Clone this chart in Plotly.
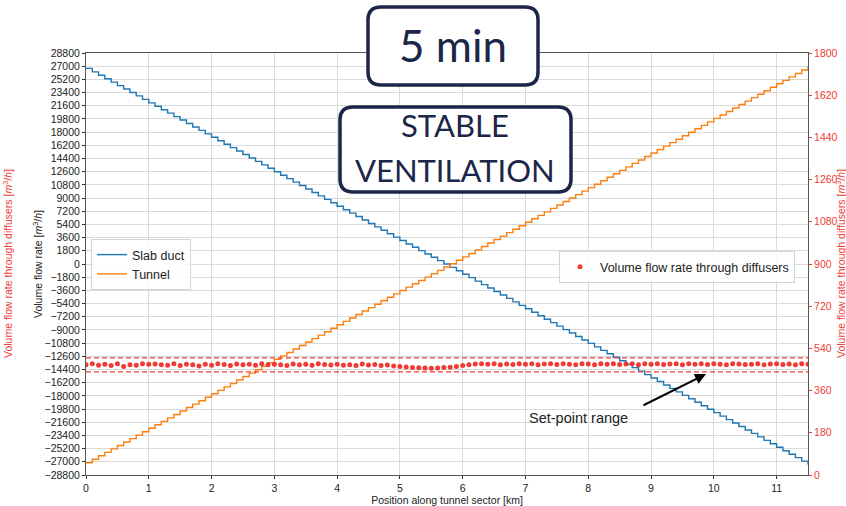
import numpy as np
import plotly.graph_objects as go

# ---------------- data ----------------
diffuser_km = [round(0.1 * i, 1) for i in range(116)]  # diffuser positions along the tunnel [km]
diffuser_flow = [  # volume flow rate through each diffuser [m3/h]
    470, 474, 468, 472, 467, 474, 463, 470, 468, 474,
    472, 473, 470, 468, 474, 467, 472, 470, 465, 472,
    468, 474, 471, 467, 473, 470, 472, 468, 474, 470,
    472, 470, 467, 473, 470, 472, 468, 474, 471, 469,
    472, 468, 470, 467, 473, 469, 471, 467, 469, 465,
    463, 461, 459, 457, 456, 455, 456, 458, 460, 463,
    467, 470, 473, 474, 472, 474, 470, 473, 471, 474,
    472, 474, 470, 473, 474, 471, 474, 472, 470, 474,
    473, 470, 474, 472, 475, 471, 473, 474, 470, 474,
    472, 474, 471, 473, 474, 470, 474, 472, 475, 471,
    474, 472, 470, 474, 473, 471, 472, 474, 470, 473,
    474, 471, 473, 470, 474, 472,
]
slab_inflow = 27170      # flow entering the slab duct [m3/h]
tunnel_inflow = -27590   # flow in the tunnel upstream of the first diffuser [m3/h]
setpoint_range = [440, 500]  # diffuser set-point range [m3/h]

cum = np.cumsum(diffuser_flow)
slab_duct = slab_inflow - cum
tunnel = tunnel_inflow + cum

left_ticks = list(range(-28800, 28801, 1800))
left_ticktext = [str(v).replace("-", "\u2212") for v in left_ticks]
right_ticks = list(range(0, 1801, 180))
x_ticks = list(range(0, 12))

# ---------------- layout helpers ----------------
W, H = 846, 506
PL, PR, PT, PB = 86, 808, 53, 475


def px(x):
    return (x - PL) / (PR - PL)


def py(y):
    return (PB - y) / (PB - PT)


def rounded_box(x0, y0, x1, y1, r):
    def P(x, y):
        return f"{px(x):.5f},{py(y):.5f}"
    return (f"M {P(x0 + r, y0)} L {P(x1 - r, y0)} Q {P(x1, y0)} {P(x1, y0 + r)} "
            f"L {P(x1, y1 - r)} Q {P(x1, y1)} {P(x1 - r, y1)} "
            f"L {P(x0 + r, y1)} Q {P(x0, y1)} {P(x0, y1 - r)} "
            f"L {P(x0, y0 + r)} Q {P(x0, y0)} {P(x0 + r, y0)} Z")


RED = "#f03a35"
NAVY = "#1c2648"
TXT = "#222222"
FONT = "Liberation Sans, Arial, sans-serif"

fig = go.Figure()

fig.add_trace(go.Scatter(x=diffuser_km, y=slab_duct, mode="lines", line_shape="hv",
                         line=dict(color="#1f77b4", width=1.4), name="Slab duct"))
fig.add_trace(go.Scatter(x=diffuser_km, y=tunnel, mode="lines", line_shape="hv",
                         line=dict(color="#ff7f0e", width=1.4), name="Tunnel"))

for v in setpoint_range:
    fig.add_trace(go.Scatter(x=[diffuser_km[0], diffuser_km[-1]], y=[v, v], mode="lines",
                             line=dict(color=RED, width=1.3, dash="5px,3px"),
                             yaxis="y2", showlegend=False, hoverinfo="skip"))

fig.add_trace(go.Scatter(x=diffuser_km, y=diffuser_flow, mode="markers",
                         marker=dict(color=RED, size=5), yaxis="y2",
                         name="Volume flow rate through diffusers", legend="legend2"))

fig.update_layout(
    width=W, height=H,
    margin=dict(l=PL, r=W - PR, t=PT, b=H - PB, pad=0),
    paper_bgcolor="white", plot_bgcolor="white",
    font=dict(family=FONT, size=10.5, color=TXT),
    xaxis=dict(range=[0, 11.5], tickvals=x_ticks, ticks="outside", ticklen=3, tickcolor="#333",
               showgrid=True, gridcolor="#dadada", gridwidth=0.8, zeroline=False,
               showline=True, linecolor="#555", linewidth=1, mirror=True,
               tickfont=dict(size=10.5, color=TXT), automargin=False,
               title=dict(text="Position along tunnel sector [km]", font=dict(size=10.5, color=TXT), standoff=2)),
    yaxis=dict(range=[-28800, 28800], tickvals=left_ticks, ticktext=left_ticktext,
               ticks="outside", ticklen=3, tickcolor="#333",
               showgrid=True, gridcolor="#dadada", gridwidth=0.8, zeroline=False,
               showline=True, linecolor="#555", linewidth=1, mirror=True,
               tickfont=dict(size=10.5, color=TXT), automargin=False),
    yaxis2=dict(range=[0, 1800], tickvals=right_ticks, overlaying="y", side="right",
                ticks="outside", ticklen=3, tickcolor=RED, showgrid=False, zeroline=False,
                showline=False, tickfont=dict(size=10.5, color=RED), automargin=False),
    legend=dict(x=px(91), y=py(239), xanchor="left", yanchor="top",
                bgcolor="rgba(255,255,255,0.85)", bordercolor="#d4d4d4", borderwidth=1,
                font=dict(size=12.5, color=TXT), itemwidth=30, tracegroupgap=0),
    legend2=dict(x=px(559), y=py(251), xanchor="left", yanchor="top",
                 bgcolor="rgba(255,255,255,0.85)", bordercolor="#d4d4d4", borderwidth=1,
                 font=dict(size=12.5, color=TXT), itemwidth=30),
    showlegend=True,
)

fig.update_layout(shapes=[
    dict(type="path", path=rounded_box(368, 7, 538, 85, 13), xref="paper", yref="paper",
         fillcolor="white", line=dict(color=NAVY, width=3.5), layer="above"),
    dict(type="path", path=rounded_box(340, 107, 571, 192, 13), xref="paper", yref="paper",
         fillcolor="white", line=dict(color=NAVY, width=3.5), layer="above"),
])

ann = []
ann.append(dict(text="5 min", x=px(453), y=py(45), xref="paper", yref="paper", showarrow=False,
                font=dict(family="Lato, Open Sans, sans-serif", size=44, color=NAVY),
                xanchor="center", yanchor="middle"))
ann.append(dict(text="STABLE", x=px(455), y=py(125), xref="paper", yref="paper", showarrow=False,
                font=dict(family="Lato, Open Sans, sans-serif", size=31, color=NAVY),
                xanchor="center", yanchor="middle"))
ann.append(dict(text="VENTILATION", x=px(455), y=py(170), xref="paper", yref="paper", showarrow=False,
                font=dict(family="Lato, Open Sans, sans-serif", size=31, color=NAVY),
                xanchor="center", yanchor="middle"))
ann.append(dict(text="Volume flow rate [<i>m</i><sup>3</sup>/<i>h</i>]", x=px(37), y=py(264),
                xref="paper", yref="paper", showarrow=False, textangle=-90,
                font=dict(size=10.5, color=TXT), xanchor="center", yanchor="middle"))
ann.append(dict(text="Volume flow rate through diffusers [<i>m</i><sup>3</sup>/<i>h</i>]", x=px(7), y=py(264),
                xref="paper", yref="paper", showarrow=False, textangle=-90,
                font=dict(size=10.5, color=RED), xanchor="center", yanchor="middle"))
ann.append(dict(text="Volume flow rate through diffusers [<i>m</i><sup>3</sup>/<i>h</i>]", x=px(840), y=py(264),
                xref="paper", yref="paper", showarrow=False, textangle=-90,
                font=dict(size=10.5, color=RED), xanchor="center", yanchor="middle"))
ann.append(dict(text="Set-point range", x=px(578), y=py(418), xref="paper", yref="paper",
                showarrow=False, font=dict(size=14.5, color=TXT), xanchor="center", yanchor="middle"))
ann.append(dict(text="", x=px(706), y=py(374), xref="paper", yref="paper", showarrow=True,
                ax=642 - 706, ay=406 - 374, arrowhead=2, arrowsize=1.1, arrowwidth=2,
                arrowcolor="black", standoff=0, startstandoff=0))
fig.update_layout(annotations=ann)

fig.write_html("out.html")
